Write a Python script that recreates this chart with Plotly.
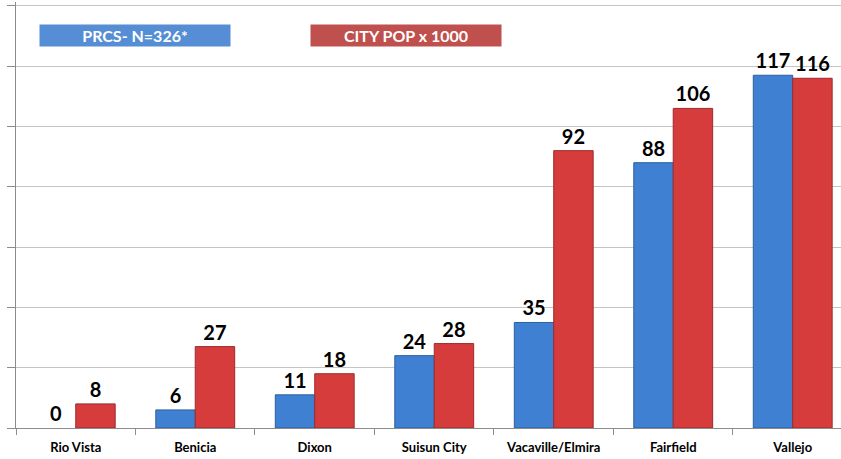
import plotly.graph_objects as go

categories = ["Rio Vista", "Benicia", "Dixon", "Suisun City", "Vacaville/Elmira", "Fairfield", "Vallejo"]
prcs = [0, 6, 11, 24, 35, 88, 117]
city_pop = [8, 27, 18, 28, 92, 106, 116]
series_names = ["PRCS- N=326*", "CITY POP x 1000"]

FONT = "Lato"

fig = go.Figure()
fig.add_trace(go.Bar(
    x=categories, y=prcs, name=series_names[0],
    marker=dict(color="#3f80d2", line=dict(color="#2c5f9e", width=[0 if v == 0 else 1 for v in prcs])),
    text=[str(v) for v in prcs], textposition="outside",
    textfont=dict(family=FONT, size=20, color="black", weight="bold"),
    cliponaxis=False, hoverinfo="skip",
))
fig.add_trace(go.Bar(
    x=categories, y=city_pop, name=series_names[1],
    marker=dict(color="#d63c3c", line=dict(color="#9e2a2a", width=[0 if v == 0 else 1 for v in city_pop])),
    text=[str(v) for v in city_pop], textposition="outside",
    textfont=dict(family=FONT, size=20, color="black", weight="bold"),
    cliponaxis=False, hoverinfo="skip",
))

fig.update_layout(
    width=841, height=459,
    margin=dict(l=16, r=0, t=2, b=31),
    paper_bgcolor="white", plot_bgcolor="white",
    barmode="group", bargap=0.34, bargroupgap=0,
    showlegend=False,
    uniformtext=dict(mode=False),
    font=dict(family=FONT),
)
fig.update_xaxes(
    range=[-0.5, 6.404],
    showline=True, linecolor="#8c8c8c", linewidth=1,
    ticks="outside", tickson="boundaries", ticklen=6, tickcolor="#8c8c8c",
    ticklabelstandoff=7,
    tickfont=dict(family=FONT, size=13, color="black", weight="bold"),
    showgrid=False,
)
fig.update_yaxes(
    range=[0, 141.3], dtick=20, tick0=0,
    showticklabels=False,
    showline=True, linecolor="#8c8c8c", linewidth=1,
    ticks="outside", ticklen=8, tickcolor="#8c8c8c",
    showgrid=True, gridcolor="#c4c4c4", gridwidth=1,
    zeroline=False,
)

legend_boxes = [
    (series_names[0], "#558ed5", (135 - 16) / 825),
    (series_names[1], "#c0504d", (406 - 16) / 825),
]
for txt, col, xp in legend_boxes:
    fig.add_annotation(
        xref="paper", yref="paper", x=xp, y=(428 - 35.5) / 426,
        xanchor="center", yanchor="middle",
        text=txt, showarrow=False,
        font=dict(family=FONT, size=16, color="white", weight="bold"),
        bgcolor=col, width=190, height=21, borderpad=0,
    )

fig.write_html(
    "out.html",
    config={"displayModeBar": False},
    post_script="document.body.style.margin='0';document.body.style.overflow='hidden';",
)
